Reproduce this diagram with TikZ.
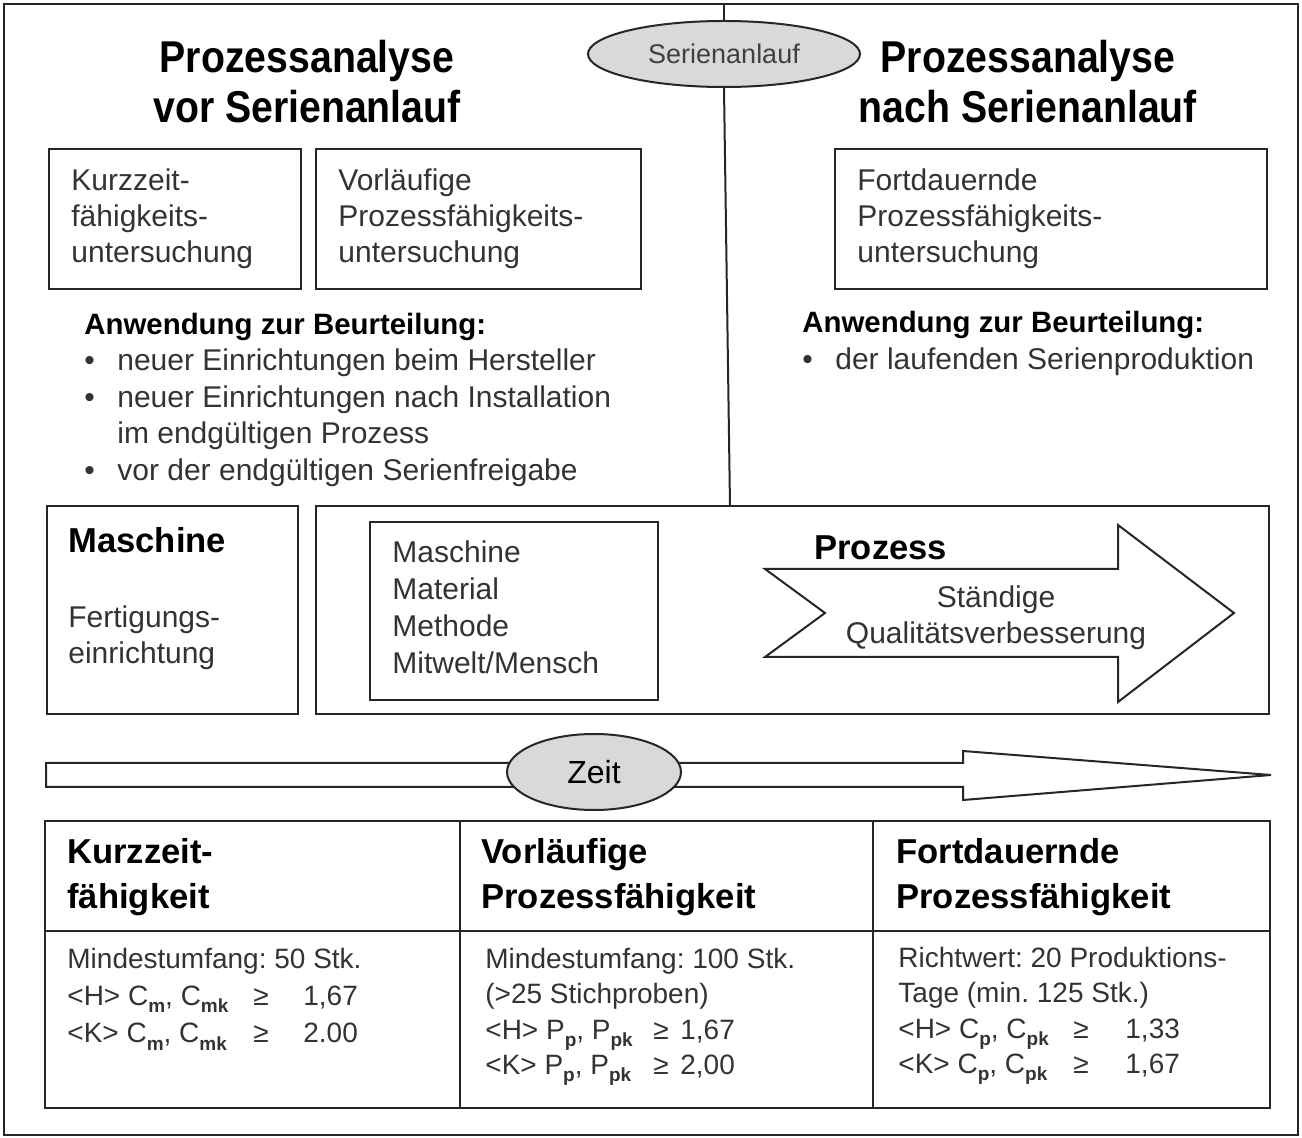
\documentclass[tikz,border=0pt]{standalone}
\usepackage{fontspec}
\setmainfont{Liberation Sans}
\newfontfamily\titlefont{Liberation Sans}[FakeStretch=0.88]
\usetikzlibrary{shapes.geometric}
\definecolor{textgray}{HTML}{333333}
\definecolor{ellgray}{HTML}{D9D9D9}
\definecolor{linegray}{HTML}{262626}
\newcommand\sbs[1]{\raisebox{-0.5ex}{\fontsize{9.5}{10}\selectfont\bfseries #1}}
\frenchspacing
\begin{document}
\begin{tikzpicture}[x=0.5pt,y=-0.5pt,
  line/.style={draw=linegray, line width=1pt},
  txt/.style={anchor=north west, inner sep=0pt, align=left, text=textgray,
    font=\fontsize{15}{#1}\selectfont, yshift={0.7*#1pt}},
  txt/.default=18,
  ttxt/.style={anchor=north west, inner sep=0pt, align=left, text=textgray,
    font=\fontsize{14}{#1}\selectfont, yshift={0.7*#1pt}},
  ttxt/.default=18,
  ctxt/.style={anchor=north, inner sep=0pt, align=center, text=textgray,
    font=\fontsize{15}{#1}\selectfont, yshift={0.7*#1pt}},
  ctxt/.default=18,
  ttl/.style={anchor=north, inner sep=0pt, align=center, text=black,
    font=\titlefont\bfseries\fontsize{22.3}{25}\selectfont, yshift=17.5pt},
  hd/.style={anchor=base west, inner sep=0pt, text=black,
    font=\bfseries\fontsize{14.7}{18}\selectfont},
  hdb/.style={anchor=base west, inner sep=0pt, text=black,
    font=\bfseries\fontsize{17.3}{22.5}\selectfont},
  hdr/.style={anchor=north west, inner sep=0pt, align=left, text=black,
    font=\bfseries\fontsize{17.3}{22.5}\selectfont, yshift=15.75pt},
  oval/.style={ellipse, draw=linegray, line width=1pt, fill=ellgray, inner sep=0pt},
]
\useasboundingbox (0,0) rectangle (1302,1138);
% outer frame
\draw[line] (4,4) rectangle (1298,1135);

% Serienanlauf marker and vertical line
\node[oval, minimum width=136pt, minimum height=33pt, text=black!75,
  font=\fontsize{13.5}{16}\selectfont] (serien) at (724,54) {Serienanlauf};
\coordinate (vtop) at (724,4);
\coordinate (vbot) at (730,506);
\draw[line] (vtop) -- (serien.north);
\draw[line] (serien.south) -- (vbot);

% titles
\node[ttl] (titleL) at (307,72) {\strut Prozessanalyse\\vor Serienanlauf};
\node[ttl] (titleR) at (1028,72) {\strut Prozessanalyse\\nach Serienanlauf};

% upper boxes
\draw[line] (49,149) rectangle (301,289);
\draw[line] (316,149) rectangle (641,289);
\draw[line] (835,149) rectangle (1267,289);
\node[txt] (kzt) at (71,190) {\strut Kurzzeit-\\fähigkeits-\\untersuchung};
\node[txt] (vpt) at (338,190) {\strut Vorläufige\\Prozessfähigkeits-\\untersuchung};
\node[txt] (fpt) at (857,190) {\strut Fortdauernde\\Prozessfähigkeits-\\untersuchung};

% Anwendung
\node[hd] (anwL) at (84,335) {Anwendung zur Beurteilung:};
\node[txt=18.35] (bulL) at (84,370) {\strut\makebox[16.5pt][l]{•}neuer Einrichtungen beim Hersteller\\
  \makebox[16.5pt][l]{•}neuer Einrichtungen nach Installation\\
  \hspace*{16.5pt}im endgültigen Prozess\\
  \makebox[16.5pt][l]{•}vor der endgültigen Serienfreigabe};
\node[hd] (anwR) at (802,333) {Anwendung zur Beurteilung:};
\node[txt] (bulR) at (802,369) {\strut\makebox[16.5pt][l]{•}der laufenden Serienproduktion};

% Maschine box
\draw[line] (47,506) rectangle (298,714);
\node[hdb] (masch) at (68,553) {Maschine};
\node[txt] (fert) at (68,627) {\strut Fertigungs-\\einrichtung};

% Prozess box
\draw[line] (316,506) rectangle (1269,714);
\draw[line] (370,522) rectangle (658,700);
\node[txt=18.5] (mmmm) at (392,562) {\strut Maschine\\Material\\Methode\\Mitwelt/Mensch};
\draw[line, fill=white] (765,569) -- (1118,569) -- (1118,525) -- (1234,613)
  -- (1118,702) -- (1118,657) -- (765,657) -- (825,613) -- cycle;
\node[hdb] (proz) at (814,560) {Prozess};
\node[ctxt] (qual) at (996,607) {\strut Ständige\\Qualitätsverbesserung};

% Zeit arrow
\draw[line, fill=white] (46,763) -- (963,763) -- (963,751) -- (1271,775)
  -- (963,800) -- (963,787) -- (46,787) -- cycle;
\node[oval, minimum width=87pt, minimum height=38pt, text=black,
  font=\fontsize{16}{19}\selectfont] (zeit) at (594,772) {Zeit};

% table
\draw[line] (45,821) rectangle (1270,1108);
\draw[line] (45,931) -- (1270,931);
\draw[line] (460,821) -- (460,1108);
\draw[line] (873,821) -- (873,1108);
\node[hdr] (h1) at (67,863) {\strut Kurzzeit-\\fähigkeit};
\node[hdr] (h2) at (481,863) {\strut Vorläufige\\Prozessfähigkeit};
\node[hdr] (h3) at (896,863) {\strut Fortdauernde\\Prozessfähigkeit};

\node[ttxt=18.6] (c1) at (67,968) {\strut Mindestumfang: 50 Stk.\\
  \makebox[93pt][l]{<H> C\sbs{m}, C\sbs{mk}}\makebox[25pt][l]{≥}1,67\\
  \makebox[93pt][l]{<K> C\sbs{m}, C\sbs{mk}}\makebox[25pt][l]{≥}2.00};
\node[ttxt=17.7] (c2) at (485,968) {\strut Mindestumfang: 100 Stk.\\
  (>25 Stichproben)\\
  \makebox[84pt][l]{<H> P\sbs{p}, P\sbs{pk}}\makebox[13.5pt][l]{≥}1,67\\
  \makebox[84pt][l]{<K> P\sbs{p}, P\sbs{pk}}\makebox[13.5pt][l]{≥}2,00};
\node[ttxt=17.7] (c3) at (898,967) {\strut Richtwert: 20 Produktions-\\
  Tage (min. 125 Stk.)\\
  \makebox[87.5pt][l]{<H> C\sbs{p}, C\sbs{pk}}\makebox[26pt][l]{≥}1,33\\
  \makebox[87.5pt][l]{<K> C\sbs{p}, C\sbs{pk}}\makebox[26pt][l]{≥}1,67};
\end{tikzpicture}
\end{document}
